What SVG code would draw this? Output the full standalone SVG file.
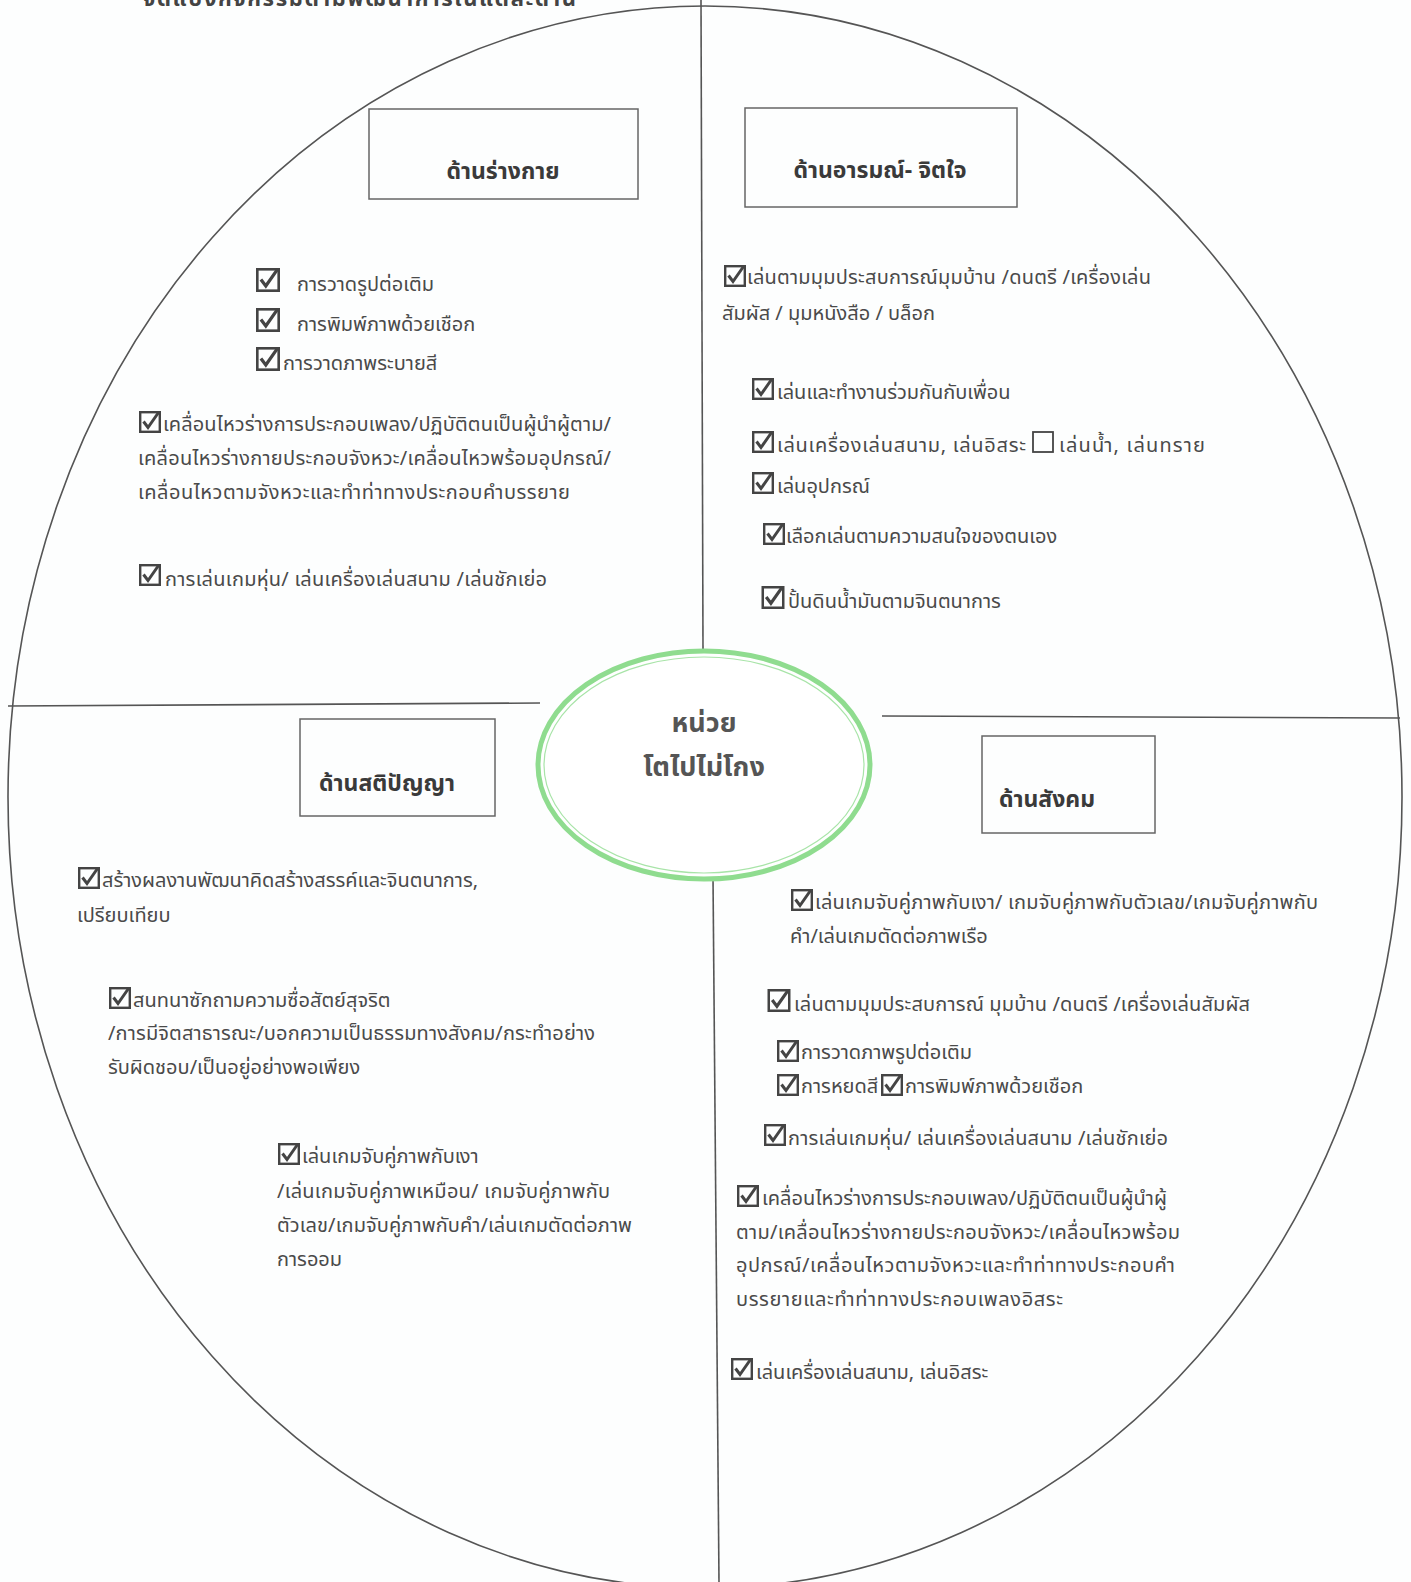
<svg xmlns="http://www.w3.org/2000/svg" xmlns:xlink="http://www.w3.org/1999/xlink" width="1411" height="1582" viewBox="0 0 1411 1582">
<style>
.t{font-family:'Noto Sans Thai','Noto Sans','DejaVu Sans','Liberation Sans',sans-serif;font-size:20px;fill:#4a4a4a}
.lb{font-family:'Noto Sans Thai','Noto Sans','DejaVu Sans','Liberation Sans',sans-serif;font-size:23px;font-weight:bold;fill:#3a3a3a;text-anchor:middle}
.ct{font-family:'Noto Sans Thai','Noto Sans','DejaVu Sans','Liberation Sans',sans-serif;font-size:27px;font-weight:bold;fill:#555;text-anchor:middle}
.box{fill:none;stroke:#666;stroke-width:1.5}
.ln{fill:none;stroke:#555;stroke-width:1.6}
</style>
<defs>
<symbol id="cb" viewBox="0 0 22 22" overflow="visible">
<rect x="1.2" y="1.2" width="19.6" height="19.6" fill="none" stroke="#444" stroke-width="2.4"/>
<polyline points="4.5,10.5 9,16.5 19.5,1.5" fill="none" stroke="#444" stroke-width="3"/>
</symbol>
<symbol id="eb" viewBox="0 0 22 22" overflow="visible">
<rect x="1" y="1" width="20" height="20" fill="none" stroke="#444" stroke-width="1.8"/>
</symbol>
</defs>
<rect width="1411" height="1582" fill="#fdfefe"/>
<text x="143" y="6" font-family="'Noto Sans Thai','Noto Sans','DejaVu Sans',sans-serif" font-size="22" font-weight="bold" fill="#444" textLength="433">จัดแบ่งกิจกรรมตามพัฒนาการในแต่ละด้าน</text>
<g id="connectors">
<ellipse cx="705" cy="797" rx="697" ry="791" class="ln"/>
<line x1="701" y1="0" x2="703" y2="650" class="ln"/>
<line x1="713" y1="877" x2="719" y2="1582" class="ln"/>
<line x1="8" y1="706" x2="540" y2="703" class="ln"/>
<line x1="882" y1="716" x2="1400" y2="718" class="ln"/>
</g>
<g id="center">
<ellipse cx="704" cy="765" rx="166" ry="114" fill="#fff" stroke="#8fdc8f" stroke-width="5"/>
<ellipse cx="704" cy="765" rx="160" ry="108" fill="none" stroke="#a8e4a8" stroke-width="1.2"/>
<text x="704" y="732" class="ct">หน่วย</text>
<text x="704" y="776" class="ct">โตไปไม่โกง</text>
</g>
<g id="physical">
<rect x="369" y="109" width="269" height="90" class="box"/>
<text x="503" y="179" class="lb">ด้านร่างกาย</text>
<use xlink:href="#cb" x="256" y="268" width="24" height="24"/>
<text x="297" y="291" class="t">การวาดรูปต่อเติม</text>
<use xlink:href="#cb" x="256" y="308" width="24" height="24"/>
<text x="297" y="331" class="t">การพิมพ์ภาพด้วยเชือก</text>
<use xlink:href="#cb" x="256" y="347" width="24" height="24"/>
<text x="283" y="370" class="t">การวาดภาพระบายสี</text>
<use xlink:href="#cb" x="139" y="411" width="22" height="22"/>
<text x="163" y="431" class="t" textLength="448">เคลื่อนไหวร่างการประกอบเพลง/ปฏิบัติตนเป็นผู้นำผู้ตาม/</text>
<text x="138" y="465" class="t" textLength="473">เคลื่อนไหวร่างกายประกอบจังหวะ/เคลื่อนไหวพร้อมอุปกรณ์/</text>
<text x="138" y="499" class="t" textLength="432">เคลื่อนไหวตามจังหวะและทำท่าทางประกอบคำบรรยาย</text>
<use xlink:href="#cb" x="139" y="564" width="22" height="22"/>
<text x="165" y="586" class="t" textLength="382">การเล่นเกมหุ่น/ เล่นเครื่องเล่นสนาม /เล่นชักเย่อ</text>
</g>
<g id="emotional">
<rect x="745" y="108" width="272" height="99" class="box"/>
<text x="880" y="178" class="lb">ด้านอารมณ์- จิตใจ</text>
<use xlink:href="#cb" x="724" y="265" width="22" height="22"/>
<text x="747" y="284" class="t" textLength="404">เล่นตามมุมประสบการณ์มุมบ้าน /ดนตรี /เครื่องเล่น</text>
<text x="722" y="320" class="t">สัมผัส / มุมหนังสือ / บล็อก</text>
<use xlink:href="#cb" x="752" y="378" width="22" height="22"/>
<text x="777" y="399" class="t">เล่นและทำงานร่วมกันกับเพื่อน</text>
<use xlink:href="#cb" x="752" y="431" width="22" height="22"/>
<text x="777" y="452" class="t" textLength="249">เล่นเครื่องเล่นสนาม,  เล่นอิสระ</text>
<use xlink:href="#eb" x="1031" y="431" width="24" height="22"/>
<text x="1059" y="452" class="t" textLength="146">เล่นน้ำ,  เล่นทราย</text>
<use xlink:href="#cb" x="752" y="472" width="22" height="22"/>
<text x="777" y="493" class="t">เล่นอุปกรณ์</text>
<use xlink:href="#cb" x="763" y="523" width="22" height="22"/>
<text x="786" y="543" class="t">เลือกเล่นตามความสนใจของตนเอง</text>
<use xlink:href="#cb" x="761" y="586" width="24" height="23"/>
<text x="788" y="608" class="t">ปั้นดินน้ำมันตามจินตนาการ</text>
</g>
<g id="intellectual">
<rect x="300" y="719" width="195" height="97" class="box"/>
<text x="387" y="791" class="lb">ด้านสติปัญญา</text>
<use xlink:href="#cb" x="78" y="867" width="22" height="22"/>
<text x="102" y="887" class="t" textLength="376">สร้างผลงานพัฒนาคิดสร้างสรรค์และจินตนาการ,</text>
<text x="77" y="922" class="t">เปรียบเทียบ</text>
<use xlink:href="#cb" x="109" y="987" width="22" height="22"/>
<text x="133" y="1007" class="t">สนทนาซักถามความซื่อสัตย์สุจริต</text>
<text x="108" y="1040" class="t" textLength="487">/การมีจิตสาธารณะ/บอกความเป็นธรรมทางสังคม/กระทำอย่าง</text>
<text x="108" y="1074" class="t">รับผิดชอบ/เป็นอยู่อย่างพอเพียง</text>
<use xlink:href="#cb" x="278" y="1143" width="22" height="22"/>
<text x="302" y="1163" class="t">เล่นเกมจับคู่ภาพกับเงา</text>
<text x="277" y="1198" class="t" textLength="333">/เล่นเกมจับคู่ภาพเหมือน/ เกมจับคู่ภาพกับ</text>
<text x="277" y="1232" class="t" textLength="355">ตัวเลข/เกมจับคู่ภาพกับคำ/เล่นเกมตัดต่อภาพ</text>
<text x="277" y="1266" class="t">การออม</text>
</g>
<g id="social">
<rect x="982" y="736" width="173" height="97" class="box"/>
<text x="1047" y="807" class="lb">ด้านสังคม</text>
<use xlink:href="#cb" x="791" y="889" width="22" height="22"/>
<text x="815" y="909" class="t" textLength="503">เล่นเกมจับคู่ภาพกับเงา/ เกมจับคู่ภาพกับตัวเลข/เกมจับคู่ภาพกับ</text>
<text x="790" y="943" class="t">คำ/เล่นเกมตัดต่อภาพเรือ</text>
<use xlink:href="#cb" x="767" y="989" width="24" height="23"/>
<text x="794" y="1011" class="t" textLength="456">เล่นตามมุมประสบการณ์ มุมบ้าน /ดนตรี /เครื่องเล่นสัมผัส</text>
<use xlink:href="#cb" x="777" y="1040" width="22" height="22"/>
<text x="801" y="1059" class="t">การวาดภาพรูปต่อเติม</text>
<use xlink:href="#cb" x="777" y="1074" width="22" height="22"/>
<text x="801" y="1093" class="t">การหยดสี</text>
<use xlink:href="#cb" x="881" y="1074" width="22" height="22"/>
<text x="905" y="1093" class="t">การพิมพ์ภาพด้วยเชือก</text>
<use xlink:href="#cb" x="764" y="1124" width="22" height="22"/>
<text x="788" y="1145" class="t" textLength="380">การเล่นเกมหุ่น/ เล่นเครื่องเล่นสนาม /เล่นชักเย่อ</text>
<use xlink:href="#cb" x="737" y="1185" width="22" height="22"/>
<text x="762" y="1205" class="t" textLength="405">เคลื่อนไหวร่างการประกอบเพลง/ปฏิบัติตนเป็นผู้นำผู้</text>
<text x="736" y="1239" class="t" textLength="444">ตาม/เคลื่อนไหวร่างกายประกอบจังหวะ/เคลื่อนไหวพร้อม</text>
<text x="736" y="1272" class="t" textLength="439">อุปกรณ์/เคลื่อนไหวตามจังหวะและทำท่าทางประกอบคำ</text>
<text x="736" y="1306" class="t" textLength="327">บรรยายและทำท่าทางประกอบเพลงอิสระ</text>
<use xlink:href="#cb" x="731" y="1358" width="22" height="22"/>
<text x="756" y="1379" class="t">เล่นเครื่องเล่นสนาม, เล่นอิสระ</text>
</g>
</svg>
